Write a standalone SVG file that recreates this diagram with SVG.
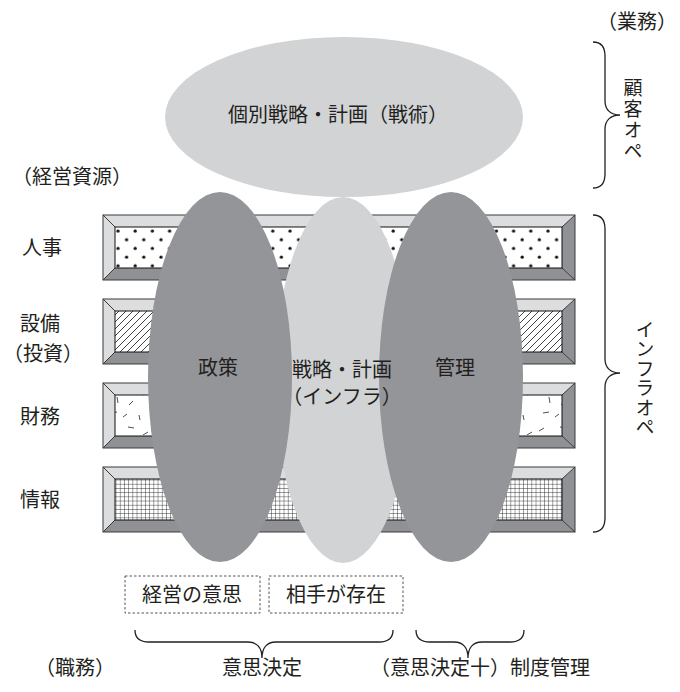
<svg xmlns="http://www.w3.org/2000/svg" width="680" height="692" viewBox="0 0 680 692">
<style>
text{font-family:"Noto Sans CJK JP","Noto Sans",sans-serif;fill:#231f20;font-size:20px}
.c{text-anchor:middle}
.v{writing-mode:vertical-rl;text-orientation:upright;font-size:19px}
.brace{fill:none;stroke:#231f20;stroke-width:1.3}
.dash{fill:none;stroke:#555;stroke-width:1;stroke-dasharray:2.5 2}
.dark{fill:#939598}
.light{fill:#d1d3d4}
.bl{fill:#dcddde}
.bd{fill:#909194}
.edge{fill:none;stroke:#3a3a3a;stroke-width:1}
</style>
<defs>
<pattern id="pDots" patternUnits="userSpaceOnUse" x="11" y="12" width="17.2" height="17.4">
<rect width="17.2" height="17.4" fill="#fff"/>
<circle cx="4" cy="4" r="1.6" fill="#111"/>
<circle cx="12.6" cy="12.7" r="1.6" fill="#111"/>
</pattern>
<pattern id="pHatch" patternUnits="userSpaceOnUse" width="7" height="7">
<rect width="7" height="7" fill="#fff"/>
<path d="M0,7 L7,0 M-1,1 L1,-1 M6,8 L8,6" stroke="#111" stroke-width="0.8"/>
</pattern>
<pattern id="pCork" patternUnits="userSpaceOnUse" width="48" height="40">
<rect width="48" height="40" fill="#fff"/>
<path d="M4,8 L9,5 M14,14 L15,20 M25,4 L31,5 M30,18 L26,22 M8,30 L14,29 M36,32 L37,37 M40,12 L45,9 M20,34 L24,31" stroke="#222" stroke-width="0.8"/>
</pattern>
<pattern id="pGrid" patternUnits="userSpaceOnUse" width="4.2" height="4.2">
<rect width="4.2" height="4.2" fill="#fff"/>
<path d="M0,0 H4.2 M0,0 V4.2" stroke="#111" stroke-width="0.8"/>
</pattern>
<g id="bevel">
<polygon class="bl" points="0,0 472,0 459,12 12,12"/>
<polygon class="bl" points="0,0 12,12 12,53 0,65"/>
<polygon class="bd" points="0,65 12,53 459,53 472,65"/>
<polygon class="bd" points="472,0 472,65 459,53 459,12"/>
<path class="edge" d="M0,0 L12,12 M472,0 L459,12 M0,65 L12,53 M472,65 L459,53"/>
<rect class="edge" x="0" y="0" width="472" height="65"/>
</g>
</defs>

<g id="label-resources"><text class="c" x="72" y="184">（経営資源）</text></g>
<g id="label-gyomu"><text class="c" x="637" y="29">（業務）</text></g>

<g id="bar-jinji" transform="translate(103,215)">
<use href="#bevel"/>
<rect x="12" y="12" width="447" height="41" fill="url(#pDots)" stroke="#111" stroke-width="1"/>
</g>
<g id="bar-setsubi" transform="translate(103,299)">
<use href="#bevel"/>
<rect x="12" y="12" width="447" height="41" fill="url(#pHatch)" stroke="#111" stroke-width="1"/>
</g>
<g id="bar-zaimu" transform="translate(103,383)">
<use href="#bevel"/>
<rect x="12" y="12" width="447" height="41" fill="url(#pCork)" stroke="#111" stroke-width="1"/>
</g>
<g id="bar-joho" transform="translate(103,467)">
<use href="#bevel"/>
<rect x="12" y="12" width="447" height="41" fill="url(#pGrid)" stroke="#111" stroke-width="1"/>
</g>

<g id="label-jinji"><text class="c" x="42" y="255">人事</text></g>
<g id="label-setsubi"><text class="c" x="40" y="331">設備</text><text class="c" x="43" y="361">（投資）</text></g>
<g id="label-zaimu"><text class="c" x="40" y="424">財務</text></g>
<g id="label-joho"><text class="c" x="40" y="507">情報</text></g>

<g id="tactics">
<ellipse class="light" cx="344" cy="117" rx="179" ry="80"/>
<text class="c" x="338" y="122">個別戦略・計画（戦術）</text>
</g>
<g id="strategy">
<ellipse class="light" cx="343" cy="380" rx="68" ry="183"/>
</g>
<g id="policy">
<ellipse class="dark" cx="220" cy="377" rx="72" ry="185"/>
<text class="c" x="218" y="375">政策</text>
</g>
<g id="management">
<ellipse class="dark" cx="451" cy="377" rx="72" ry="185"/>
<text class="c" x="455" y="375">管理</text>
</g>
<g id="strategy-label">
<text class="c" x="342" y="377">戦略・計画</text>
<text class="c" x="342" y="404">（インフラ）</text>
</g>

<g id="box-will">
<rect class="dash" x="125" y="576" width="135" height="37"/>
<text class="c" x="192" y="602">経営の意思</text>
</g>
<g id="box-partner">
<rect class="dash" x="269" y="576" width="134" height="37"/>
<text class="c" x="336" y="602">相手が存在</text>
</g>

<g id="braces">
<path class="brace" d="M593,42 C601,42 605,47 605,56 L605,101 C605,110 611,115 620,115 C611,115 605,120 605,129 L605,174 C605,183 601,188 593,188"/>
<path class="brace" d="M593,215 C601,215 605,220 605,229 L605,359 C605,368 611,373 620,373 C611,373 605,378 605,387 L605,518 C605,527 601,532 593,532"/>
<path class="brace" d="M135,630 C135,638 140,642 149,642 L248,642 C257,642 262,648 262,658 C262,648 267,642 276,642 L379,642 C388,642 393,638 393,630"/>
<path class="brace" d="M416,630 C416,638 421,642 430,642 L454,642 C463,642 468,648 468,658 C468,648 473,642 482,642 L510,642 C519,642 524,638 524,630"/>
</g>

<g id="label-customer-ops">
<text class="v" x="633" y="78" letter-spacing="2">顧客オペ</text>
</g>
<g id="label-infra-ops">
<text class="v" x="645" y="320" letter-spacing="0.5">インフラオペ</text>
</g>

<g id="label-shokumu"><text class="c" x="75" y="675">（職務）</text></g>
<g id="label-decision"><text class="c" x="262" y="675">意思決定</text></g>
<g id="label-control"><text class="c" x="480" y="675">（意思決定十）制度管理</text></g>
</svg>
